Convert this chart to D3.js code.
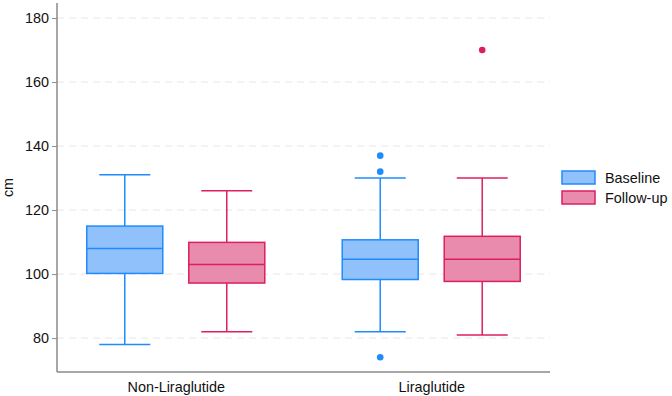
<!DOCTYPE html>
<html><head><meta charset="utf-8">
<script src="https://cdn.jsdelivr.net/npm/d3@7"></script>
<style>body{margin:0;background:#fff}svg{display:block;font-family:"Liberation Sans",Arial,sans-serif}</style>
</head><body><svg id="c" width="672" height="396"></svg>
<script>
const groups = ["Non-Liraglutide", "Liraglutide"];
const series = ["Baseline", "Follow-up"];
// [whiskerLow, q1, median, q3, whiskerHigh]
const baselineStats = [[78, 100.2, 108, 115, 131], [82, 98.3, 104.6, 110.7, 130]];
const followupStats = [[82, 97.2, 103, 109.9, 126], [81, 97.7, 104.6, 111.8, 130]];
const baselineOutliers = [[], [137, 132, 74]];
const followupOutliers = [[], [170]];
const yTicks = [80, 100, 120, 140, 160, 180];
const yLabel = "cm";

const fills = ["#90c1fa", "#e98bac"];
const strokes = ["#1f8bff", "#dc1f5f"];

const svg = d3.select("#c");
const L = 57, R = 550, T = 3, B = 372;
const y = d3.scaleLinear().domain([69.4, 184.7]).range([B, T]);
const x = d3.scalePoint().domain(groups).range([L, R]).padding(0.465);
const sub = d3.scalePoint().domain(series).range([-51, 51]);
const boxW = 76, capW = 51;
const FS = 14.4;

// grid
svg.append("g").selectAll("line").data(yTicks).join("line")
  .attr("x1", L).attr("x2", R).attr("y1", d => y(d)).attr("y2", d => y(d))
  .attr("stroke", "#e6e6e6").attr("stroke-width", 1).attr("stroke-dasharray", "7,5");

// y axis
const ya = svg.append("g").attr("transform", `translate(${L},0)`)
  .call(d3.axisLeft(y).tickValues(yTicks).tickSize(5).tickPadding(3));
ya.select(".domain").attr("stroke", "#8a8a8a").attr("stroke-width", 1.5).attr("d", `M0,${T}V${B}`);
ya.selectAll(".tick line").attr("stroke", "#8a8a8a");
ya.selectAll("text").attr("font-size", FS).attr("fill", "#111").attr("font-family", "Liberation Sans, Arial, sans-serif");

// x axis
const xa = svg.append("g").attr("transform", `translate(0,${B})`)
  .call(d3.axisBottom(x).tickSize(0).tickPadding(10));
xa.select(".domain").attr("stroke", "#8a8a8a").attr("stroke-width", 1.5).attr("d", `M${L},0H${R}`);
xa.selectAll("text").attr("font-size", FS).attr("fill", "#111").attr("font-family", "Liberation Sans, Arial, sans-serif");

svg.append("text").attr("transform", `translate(13,${(T + B) / 2}) rotate(-90)`)
  .attr("text-anchor", "middle").attr("font-size", FS).attr("fill", "#111").text(yLabel);

const allStats = [baselineStats, followupStats];
const allOut = [baselineOutliers, followupOutliers];
series.forEach((s, si) => {
  groups.forEach((g, gi) => {
    const [lo, q1, med, q3, hi] = allStats[si][gi];
    const cx = x(g) + sub(s);
    const gg = svg.append("g");
    const col = strokes[si];
    gg.append("line").attr("x1", cx).attr("x2", cx).attr("y1", y(hi)).attr("y2", y(q3)).attr("stroke", col).attr("stroke-width", 1.5);
    gg.append("line").attr("x1", cx).attr("x2", cx).attr("y1", y(q1)).attr("y2", y(lo)).attr("stroke", col).attr("stroke-width", 1.5);
    gg.append("line").attr("x1", cx - capW / 2).attr("x2", cx + capW / 2).attr("y1", y(hi)).attr("y2", y(hi)).attr("stroke", col).attr("stroke-width", 1.5);
    gg.append("line").attr("x1", cx - capW / 2).attr("x2", cx + capW / 2).attr("y1", y(lo)).attr("y2", y(lo)).attr("stroke", col).attr("stroke-width", 1.5);
    gg.append("rect").attr("x", cx - boxW / 2).attr("width", boxW).attr("y", y(q3)).attr("height", y(q1) - y(q3))
      .attr("fill", fills[si]).attr("stroke", col).attr("stroke-width", 1.5);
    gg.append("line").attr("x1", cx - boxW / 2).attr("x2", cx + boxW / 2).attr("y1", y(med)).attr("y2", y(med)).attr("stroke", col).attr("stroke-width", 1.5);
    gg.selectAll("circle").data(allOut[si][gi]).join("circle")
      .attr("cx", cx).attr("cy", d => y(d)).attr("r", 3.3).attr("fill", col);
  });
});

// legend
const lg = svg.append("g");
series.forEach((s, i) => {
  const yy = 171 + i * 20;
  lg.append("rect").attr("x", 562).attr("y", yy).attr("width", 33).attr("height", 13)
    .attr("fill", fills[i]).attr("stroke", strokes[i]).attr("stroke-width", 1.5);
  lg.append("text").attr("x", 605).attr("y", yy + 11.5).attr("font-size", FS).attr("fill", "#111").text(s);
});
</script></body></html>
